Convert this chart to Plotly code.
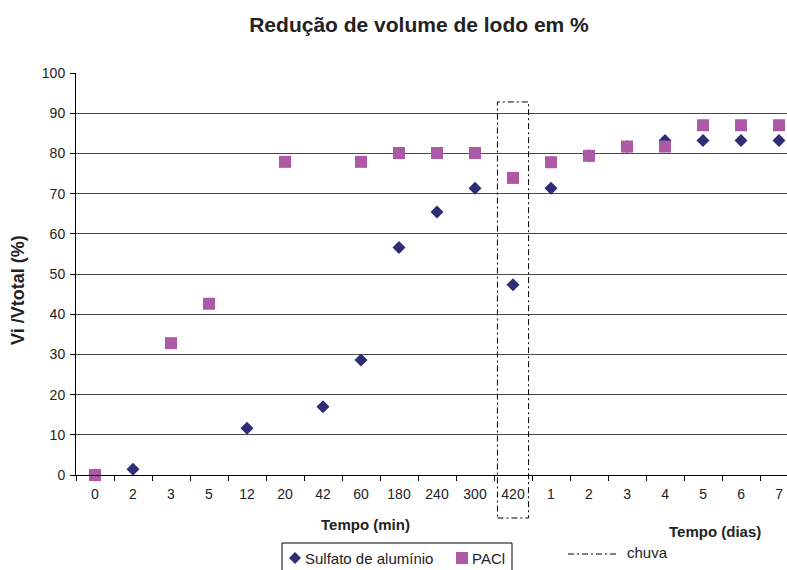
import plotly.graph_objects as go

# Sampling times: minutes first, then days
categories = ["0", "2", "3", "5", "12", "20", "42", "60", "180", "240", "300", "420",
              "1", "2", "3", "4", "5", "6", "7"]
# Sludge volume reduction (%) for each coagulant
sulfato = [0, 1.4, None, None, 11.6, None, 17.0, 28.6, 56.6, 65.4, 71.3, 47.3,
           71.3, 79.4, 81.7, 83.2, 83.2, 83.2, 83.2]
pacl = [0, None, 32.8, 42.6, None, 77.9, None, 77.9, 80.1, 80.1, 80.1, 73.9,
        77.8, 79.4, 81.7, 81.7, 87.0, 87.0, 87.0]
y_ticks = list(range(0, 101, 10))
rain_category = "420"

W, H = 787, 570
L, R, T, B = 76, 0, 73, 95
X_RANGE = [-0.5, 18.21]
Y_RANGE = [0, 100]
FONT = "Liberation Sans, Arial, sans-serif"
C_SULF = "#2E2D76"
C_PACL = "#AD59A5"
TXT = "#222"

pos = list(range(len(categories)))


def px_x(px):
    return (px - L) / (W - L - R)


def px_y(py):
    return (H - B - py) / (H - T - B)


def dx(v):
    return (v - X_RANGE[0]) / (X_RANGE[1] - X_RANGE[0])


def dy(v):
    return (v - Y_RANGE[0]) / (Y_RANGE[1] - Y_RANGE[0])


fig = go.Figure()
fig.add_trace(go.Scatter(
    x=pos, y=sulfato, mode="markers", name="Sulfato de alumínio",
    marker=dict(symbol="diamond", size=10, color=C_SULF, line=dict(width=0)),
    cliponaxis=False, showlegend=False))
fig.add_trace(go.Scatter(
    x=pos, y=pacl, mode="markers", name="PACl",
    marker=dict(symbol="square", size=12, color=C_PACL, line=dict(width=0)),
    cliponaxis=False, showlegend=False))

shapes = []
annotations = []

# Dash-dot frame around the rain sample
ri = categories.index(rain_category)
shapes.append(dict(type="rect", xref="paper", yref="paper",
                   x0=dx(ri - 0.41), x1=dx(ri + 0.41),
                   y0=dy(-10.7), y1=dy(92.8),
                   line=dict(color="black", width=1, dash="6px,3px,2px,3px")))

# Legend box with markers and labels
shapes.append(dict(type="rect", xref="paper", yref="paper",
                   x0=px_x(282), x1=px_x(512), y0=px_y(573), y1=px_y(543),
                   line=dict(color="black", width=1), fillcolor="white"))
cx, cy, r = 295, 558, 6
shapes.append(dict(type="path", xref="paper", yref="paper",
                   path=f"M {px_x(cx - r)} {px_y(cy)} L {px_x(cx)} {px_y(cy - r)} "
                        f"L {px_x(cx + r)} {px_y(cy)} L {px_x(cx)} {px_y(cy + r)} Z",
                   line=dict(width=0), fillcolor=C_SULF))
shapes.append(dict(type="rect", xref="paper", yref="paper",
                   x0=px_x(456), x1=px_x(468), y0=px_y(564), y1=px_y(552),
                   line=dict(width=0), fillcolor=C_PACL))
annotations.append(dict(text="Sulfato de alumínio", xref="paper", yref="paper",
                        x=px_x(303), y=px_y(558), xanchor="left", yanchor="middle",
                        showarrow=False, font=dict(size=15, color=TXT, family=FONT)))
annotations.append(dict(text="PACl", xref="paper", yref="paper",
                        x=px_x(470), y=px_y(558), xanchor="left", yanchor="middle",
                        showarrow=False, font=dict(size=15, color=TXT, family=FONT)))
# Rain legend entry
shapes.append(dict(type="line", xref="paper", yref="paper",
                   x0=px_x(568), x1=px_x(616), y0=px_y(554), y1=px_y(554),
                   line=dict(color="black", width=1, dash="6px,3px,2px,3px")))
annotations.append(dict(text="chuva", xref="paper", yref="paper",
                        x=px_x(625), y=px_y(552), xanchor="left", yanchor="middle",
                        showarrow=False, font=dict(size=15, color=TXT, family=FONT)))

# Axis titles
annotations.append(dict(text="<b>Tempo (min)</b>", xref="paper", yref="paper",
                        x=px_x(365), y=px_y(524), xanchor="center", yanchor="middle",
                        showarrow=False, font=dict(size=15, color=TXT, family=FONT)))
annotations.append(dict(text="<b>Tempo (dias)</b>", xref="paper", yref="paper",
                        x=px_x(715), y=px_y(531), xanchor="center", yanchor="middle",
                        showarrow=False, font=dict(size=15, color=TXT, family=FONT)))
annotations.append(dict(text="<b>Vi /Vtotal (%)</b>", xref="paper", yref="paper",
                        x=px_x(18), y=px_y(290), xanchor="center", yanchor="middle",
                        textangle=-90, showarrow=False,
                        font=dict(size=18, color=TXT, family=FONT)))

fig.update_layout(
    width=W, height=H,
    margin=dict(l=L, r=R, t=T, b=B, pad=0),
    paper_bgcolor="white", plot_bgcolor="white",
    font=dict(family=FONT, size=14, color=TXT),
    title=dict(text="<b>Redução de volume de lodo em %</b>",
               x=419 / W, xanchor="center",
               y=1 - 25 / H, yanchor="middle",
               font=dict(size=21, color=TXT, family=FONT)),
    shapes=shapes, annotations=annotations,
)

fig.update_xaxes(
    range=X_RANGE, tickmode="array", tickvals=pos, ticktext=categories,
    ticks="", showgrid=False, zeroline=False,
    showline=True, linecolor="black", linewidth=1,
    tickfont=dict(size=14, color=TXT), ticklabelstandoff=6,
    minor=dict(tickmode="array", tickvals=[p - 0.5 for p in pos] + [pos[-1] + 0.5],
               ticks="outside", ticklen=5, tickcolor="black", showgrid=False),
)
fig.update_yaxes(
    range=Y_RANGE, tickmode="array", tickvals=y_ticks,
    ticks="outside", ticklen=5, tickcolor="black",
    showgrid=True, gridcolor="#4a4a4a", gridwidth=1, zeroline=False,
    showline=True, linecolor="black", linewidth=1,
    tickfont=dict(size=14, color=TXT), ticklabelstandoff=2,
)

fig.write_html("out.html")
